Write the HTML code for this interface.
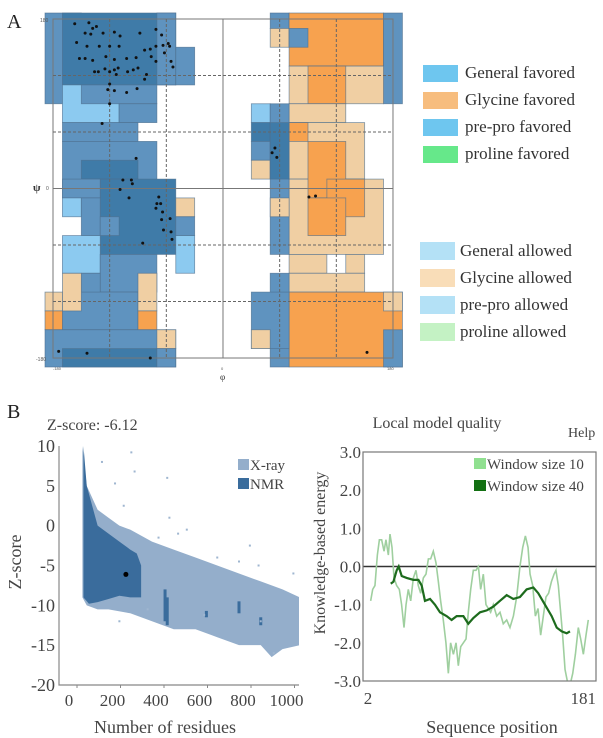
<!DOCTYPE html>
<html><head><meta charset="utf-8">
<style>
html,body{margin:0;padding:0;background:#fff;}
body{width:603px;height:738px;overflow:hidden;}
svg{display:block;font-family:"Liberation Serif",serif;}
</style></head>
<body>
<svg id="fig" width="603" height="738" viewBox="0 0 603 738" xmlns="http://www.w3.org/2000/svg">
  <text x="7" y="28" font-size="20" fill="#222">A</text>
  <text x="7" y="418" font-size="20" fill="#222">B</text>
  <g id="rama"></g>
  <g id="legend"></g>
  <g id="zplot"></g>
  <g id="qplot"></g>
</svg>
<script>
// ---------- Ramachandran data ----------
const ramaRegions = [
 // [phi1, phi2, psiTop, psiBottom, type]
 [-190,-150,190,90,'M'],[-170,-50,190,110,'D'],[-70,-50,190,110,'M'],[-50,-30,150,110,'M'],
 [-170,-110,110,70,'L'],[-150,-70,110,90,'M'],[-110,-70,90,70,'M'],
 [-170,-90,70,50,'M'],[-170,-70,50,-10,'M'],[-150,-90,30,10,'D'],[-130,-50,10,-70,'D'],
 [-170,-130,10,-10,'M'],[-170,-150,-10,-30,'L'],[-150,-130,-10,-50,'M'],[-130,-110,-30,-50,'M'],
 [-50,-30,-10,-30,'T'],[-50,-30,-30,-50,'M'],[-50,-30,-50,-90,'L'],[-170,-130,-50,-90,'L'],
 [-130,-70,-70,-110,'M'],[-150,-130,-90,-150,'M'],[-170,-90,-110,-150,'M'],
 [-170,-150,-90,-130,'T'],[-190,-170,-110,-130,'T'],[-190,-170,-130,-150,'O'],
 [-90,-70,-90,-130,'T'],[-90,-70,-130,-150,'O'],
 [-190,-50,-150,-190,'M'],[-170,-70,-170,-190,'D'],[-70,-50,-150,-170,'T'],[-70,-50,-170,-190,'M'],
 [50,70,190,170,'M'],[50,70,170,150,'T'],[70,170,190,130,'O'],[70,90,170,150,'M'],
 [170,190,190,90,'M'],[70,170,130,90,'T'],[90,130,130,90,'O'],[70,130,90,70,'T'],
 [70,150,70,10,'T'],[70,170,10,-70,'T'],[70,110,-70,-90,'T'],[130,150,-70,-90,'T'],[70,150,-90,-110,'T'],
 [70,90,70,50,'O'],[90,130,50,-10,'O'],[110,150,10,-30,'O'],[90,130,-10,-50,'O'],
 [70,190,-110,-190,'O'],[170,190,-110,-130,'T'],[170,190,-150,-190,'M'],
 [30,50,90,70,'L'],[30,50,70,50,'D'],[30,50,50,30,'M'],[30,50,30,10,'T'],
 [50,70,90,-70,'M'],[50,70,70,10,'D'],[50,70,-10,-30,'T'],[50,70,-90,-190,'M'],
 [30,70,-110,-170,'M'],[30,50,-150,-170,'T']
];
const ramaPhi = [-157,-142,-134,-138,-146,-140,-127,-115,-109,-88,-71,-65,-155,-144,-131,-120,-110,-83,-77,-71,-63.5,-58,-56.5,-62,-152,-146,-138,-124,-115,-102,-92,-76,-71,-55,-53,-136,-132,-125,-120,-115,-111,-113,-101,-95,-90,-81,-83,-120,-122,-115,-102,-91,-120,-128,-92,-106,-97,-96,-109,-99.5,-68,-70,-71,-66,-64,-56,-65,-63,-55,-54,-85,55,52,57,91,98,-174,-144,-77,152.5];
const ramaPsi = [175,176,172,170,165,164,165,166,162,165,169,163,155,151,151,151,151,147,148,151,152,154,151,144,138,138,136,140,137,138,139,140,135,135,129,124,124,127,124,126,128,121,124,126,128,121,116,111,105,104,102,106,90,69,32,9,9,5,-1,-10,-9,-16,-21,-16,-25,-32,-33,-44,-46,-54,-58,43,38,33,-9,-8,-173,-175,-180,-174];
const legendFavored = ['General favored','Glycine favored','pre-pro favored','proline favored'];
const legendAllowed = ['General allowed','Glycine allowed','pre-pro allowed','proline allowed'];

// ---------- Z-score data ----------
const zXTicks = [0,200,400,600,800,1000];
const zYTicks = [10,5,0,-5,-10,-15,-20];
const xrayUpperN = [80,100,150,200,250,300,400,500,600,700,800,900,1000,1080];
const xrayUpperZ = [10,5,2,1,0,-0.5,-2,-3,-4,-5,-6,-7,-8,-9];
const xrayLowerN = [1080,1000,950,900,800,700,600,500,450,400,300,200,150,100,80];
const xrayLowerZ = [-15,-15.5,-16.5,-15,-15,-14,-13,-13,-12.5,-12,-11,-10.5,-10.5,-10,-9];
const nmrUpperN = [85,100,120,150,200,250,300,330,350,350];
const nmrUpperZ = [10,5,3,0,-1,-2,-3,-3.5,-5,-9];
const nmrLowerN = [300,250,200,150,110,85];
const nmrLowerZ = [-9,-8.8,-9.2,-9.6,-9.8,-9];
const sparseN = [170,230,270,305,320,470,480,560,380,640,850,960,250,1050,800,890,700,520,430,900];
const sparseZ = [8,5.3,2.5,9.2,6.8,6,1,-0.5,-10.5,-11.2,-2.5,-16,-12,-6,-4.5,-5,-4,-1,-1.5,-12];
const nmrStreakN = [460,470,650,800,900];
const nmrStreakTop = [-8,-9,-10.7,-9.5,-11.5];
const nmrStreakBot = [-12,-12.5,-11.5,-11,-12.5];
const modelN = [280];
const modelZ = [-6.12];

// ---------- Local quality data ----------
const qYTicks = [3.0,2.0,1.0,0.0,-1.0,-2.0,-3.0];
const qYLabels = ['3.0','2.0','1.0','0.0','-1.0','-2.0','-3.0'];
const w10Seq = [4.9,6.5,8.3,10.2,11.8,13.6,15.5,17.0,18.9,20.2,21.8,23.4,25.5,27.6,29.4,31.3,32.9,34.7,36.6,38.7,40.8,42.6,44.5,46.6,48.7,50.6,52.4,54.5,56.6,58.5,60.3,62.4,64.5,66.4,68.2,70.4,72.5,74.3,76.2,78.3,80.4,82.2,84.1,86.2,88.3,90.2,92.0,94.1,96.2,98.1,99.9,102.0,104.7,107.3,109.9,112.6,115.2,117.9,120.5,123.1,125.3,127.4,129.5,131.1,133.2,135.3,137.4,139.5,141.6,143.7,145.8,148.0,150.1,151.6,153.5,154.8,156.9,158.8,160.6,162.8,164.9,167.0,169.3,171.2,173.3,175.4,177.2];
const w10Val = [-0.9,-0.6,-0.5,0.3,0.7,0.7,0.4,0.7,0.3,0.85,0.5,-0.3,-0.5,-0.6,-1.0,-1.6,-1.0,-0.6,-0.9,-0.3,-0.1,-0.5,-0.7,-0.3,-0.2,0.2,0.2,0.4,0.1,-0.4,-0.9,-1.4,-2.0,-2.8,-2.0,-2.3,-2.0,-2.6,-2.1,-2.0,-1.9,-1.2,-0.6,-0.1,-0.1,0.0,-0.6,-0.2,-1.0,-1.1,-1.2,-1.0,-1.3,-1.2,-1.5,-1.4,-1.6,-1.3,-0.8,0.0,0.5,0.8,0.5,-0.2,-0.5,-1.3,-1.1,-1.8,-1.3,-0.8,-0.7,-0.4,-0.2,-0.1,-0.5,-1.0,-1.8,-2.7,-3.0,-3.1,-2.8,-2.3,-1.6,-1.9,-2.3,-1.8,-1.4];
const w40Seq = [20.8,22.9,25.5,27.1,29.5,33.4,38.7,42.7,45.3,47.9,51.9,55.8,59.8,65.1,69.0,73.0,78.3,82.2,86.2,91.5,96.8,102,107.3,112.6,117.8,123.1,128.4,133.7,137.6,142.9,148.2,152.2,156.2,160.1,162.7];
const w40Val = [-0.45,-0.4,-0.1,0.0,-0.25,-0.3,-0.35,-0.35,-0.5,-0.9,-0.85,-1.0,-1.2,-1.3,-1.4,-1.3,-1.3,-1.5,-1.35,-1.2,-1.15,-1.05,-0.9,-0.75,-0.85,-0.8,-0.6,-0.55,-0.7,-1.0,-1.3,-1.6,-1.7,-1.75,-1.7];

const NS='http://www.w3.org/2000/svg';
function mk(tag, attrs, parent){const e=document.createElementNS(NS,tag);for(const k in attrs)e.setAttribute(k,attrs[k]);parent.appendChild(e);return e;}

// ---------- Ramachandran ----------
(function(){
 const g=document.getElementById('rama');
 const rx=p=>53+(p+180)*0.9444, ry=s=>19+(180-s)*0.9417;
 const fill={M:'#5f93bf',D:'#3f7ba8',L:'#8ccaf0',T:'#f0cfa3',O:'#f7a24f'};
 const clipR=mk('rect',{x:45,y:13,width:358,height:354,fill:'#fff'},g);
 
 
 ramaRegions.forEach(r=>{
   const x1=Math.max(rx(r[0]),45),x2=Math.min(rx(r[1]),403),y1=Math.max(ry(r[2]),13),y2=Math.min(ry(r[3]),367);
   const e=mk('rect',{x:x1,y:y1,width:x2-x1,height:y2-y1,fill:fill[r[4]],stroke:'#4d6f8e','stroke-width':0.8,'stroke-opacity':0.7},g);
   
   
 });
 // grid
 const fr=mk('rect',{x:rx(-180),y:ry(180),width:rx(180)-rx(-180),height:ry(-180)-ry(180),fill:'none',stroke:'#777','stroke-width':1},g);
 
 
 [0].forEach(v=>{
   const a=mk('line',{x1:rx(v),x2:rx(v),y1:ry(180),y2:ry(-180),stroke:'#777','stroke-width':1},g);
   
   
   const b=mk('line',{x1:rx(-180),x2:rx(180),y1:ry(v),y2:ry(v),stroke:'#777','stroke-width':1},g);
   
   
 });
 [-120,-60,60,120].forEach(v=>{
   const a=mk('line',{x1:rx(v),x2:rx(v),y1:ry(180),y2:ry(-180),stroke:'#666','stroke-width':1,'stroke-dasharray':'3,2'},g);
   
   
   const b=mk('line',{x1:rx(-180),x2:rx(180),y1:ry(v),y2:ry(v),stroke:'#666','stroke-width':1,'stroke-dasharray':'3,2'},g);
   
   
 });
 ramaPhi.forEach((p,i)=>{
   const c=mk('circle',{cx:rx(p),cy:ry(ramaPsi[i]),r:1.5,fill:'#111'},g);
   
   
 });
 const lbl=[['180',40,22,5],['-180',36,361,5],['-180',53,370,4],['180',387,370,4],['0',221,370,4],['0',46,190,5]];
 lbl.forEach(l=>{const t=mk('text',{x:l[1],y:l[2],'font-size':l[3],fill:'#555','font-family':'Liberation Sans,sans-serif'},g);t.textContent=l[0];
   
   });
 const psi=mk('text',{x:33,y:191,'font-size':11,'font-weight':'bold',fill:'#333'},g);psi.textContent='ψ';
 
 
 const phi=mk('text',{x:220,y:380,'font-size':9,fill:'#333'},g);phi.textContent='φ';
 
 
})();

// ---------- Legend ----------
(function(){
 const g=document.getElementById('legend');
 const favC=['#6ec6ef','#f7bd7e','#6ec6ef','#66e88a'], allC=['#b4e1f6','#f9ddb8','#b4e1f6','#c4f2c4'];
 legendFavored.forEach((s,i)=>{
   const r=mk('rect',{x:423,y:65+i*27,width:35,height:17,fill:favC[i]},g);
   
   
   const t=mk('text',{x:465,y:78+i*27,'font-size':17,fill:'#333'},g);t.textContent=s;
   
   
 });
 legendAllowed.forEach((s,i)=>{
   const r=mk('rect',{x:420,y:242+i*27,width:35,height:18,fill:allC[i]},g);
   
   
   const t=mk('text',{x:460,y:256+i*27,'font-size':17,fill:'#333'},g);t.textContent=s;
   
   
 });
})();

// ---------- Z-score plot ----------
(function(){
 const g=document.getElementById('zplot');
 const L=59,R=299,T=446,B=685;
 const zx=n=>L+6+n*0.2175, zy=z=>T+(10-z)*(B-T)/30;
 const cp=mk('clipPath',{id:'zclip'},g);mk('rect',{x:L,y:T,width:R-L,height:B-T},cp);
 const inner=mk('g',{'clip-path':'url(#zclip)'},g);
 const poly=(un,uz,ln,lz)=>un.map((n,i)=>zx(n)+','+zy(uz[i])).concat(ln.map((n,i)=>zx(n)+','+zy(lz[i]))).join(' ');
 const xr=mk('polygon',{points:poly(xrayUpperN,xrayUpperZ,xrayLowerN,xrayLowerZ),fill:'#94aecb'},inner);
 
 
 const nm=mk('polygon',{points:poly(nmrUpperN,nmrUpperZ,nmrLowerN,nmrLowerZ),fill:'#3a6c9c'},inner);
 
 
 nmrStreakN.forEach((n,i)=>{
   const r=mk('rect',{x:zx(n)-1.5,y:zy(nmrStreakTop[i]),width:3,height:zy(nmrStreakBot[i])-zy(nmrStreakTop[i]),fill:'#3a6c9c'},inner);
   
   
 });
 sparseN.forEach((n,i)=>{
   const c=mk('rect',{x:zx(n)-1,y:zy(sparseZ[i])-1,width:2,height:2,fill:'#9fb6d0'},inner);
   
   
 });
 modelN.forEach((n,i)=>{
   const c=mk('circle',{cx:zx(n),cy:zy(modelZ[i]),r:2.5,fill:'#000'},inner);
   
   
 });
 const ax=mk('path',{d:`M${L},${T} V${B} H${R}`,fill:'none',stroke:'#888','stroke-width':1.2},g);
 
 
 zYTicks.forEach(v=>{
   const t=mk('text',{x:L-4,y:zy(v)+6,'font-size':18,'text-anchor':'end',fill:'#444'},g);t.textContent=v;
   
   
 });
 zXTicks.forEach(v=>{
   const t=mk('text',{x:zx(v)+4,y:706,'font-size':17,'text-anchor':'middle',fill:'#444'},g);t.textContent=v;
   
   
   const k=mk('line',{x1:zx(v)+12,x2:zx(v)+12,y1:B,y2:B+3,stroke:'#888'},g);
   
   
 });
 const t1=mk('text',{x:47,y:430,'font-size':16,fill:'#444'},g);t1.textContent='Z-score: -6.12';
 
 
 const t2=mk('text',{x:0,y:0,'font-size':18,'text-anchor':'middle',fill:'#444',transform:'translate(21,562) rotate(-90)'},g);t2.textContent='Z-score';
 
 
 const t3=mk('text',{x:165,y:733,'font-size':18,'text-anchor':'middle',fill:'#444'},g);t3.textContent='Number of residues';
 
 
 const s1=mk('rect',{x:238,y:459,width:11,height:11,fill:'#94aecb'},g);
 
 
 const l1=mk('text',{x:250,y:470,'font-size':15,fill:'#444'},g);l1.textContent='X-ray';
 
 
 const s2=mk('rect',{x:238,y:478,width:11,height:11,fill:'#3a6c9c'},g);
 
 
 const l2=mk('text',{x:250,y:489,'font-size':15,fill:'#444'},g);l2.textContent='NMR';
 
 
})();

// ---------- Local model quality ----------
(function(){
 const g=document.getElementById('qplot');
 const L=363,R=596,T=452,B=681;
 const qx=s=>367+(s-2)*1.263, qy=v=>T+(3-v)*(B-T)/6;
 const cp=mk('clipPath',{id:'qclip'},g);mk('rect',{x:L,y:T,width:R-L,height:B-T},cp);
 const inner=mk('g',{'clip-path':'url(#qclip)'},g);
 const zl=mk('line',{x1:L,x2:R,y1:qy(0),y2:qy(0),stroke:'#333','stroke-width':1.6},inner);
 
 
 const p10=mk('polyline',{points:w10Seq.map((s,i)=>qx(s)+','+qy(w10Val[i])).join(' '),fill:'none',stroke:'#9fcf9f','stroke-width':1.6},inner);
 
 
 const p40=mk('polyline',{points:w40Seq.map((s,i)=>qx(s)+','+qy(w40Val[i])).join(' '),fill:'none',stroke:'#1d6b1d','stroke-width':2.2},inner);
 
 
 const fr=mk('rect',{x:L,y:T,width:R-L,height:B-T,fill:'none',stroke:'#777','stroke-width':1.2},g);
 
 
 qYTicks.forEach((v,i)=>{
   const t=mk('text',{x:L-2,y:qy(v)+6,'font-size':17,'text-anchor':'end',fill:'#444'},g);t.textContent=qYLabels[i];
   
   
 });
 const a=mk('text',{x:368,y:704,'font-size':17,'text-anchor':'middle',fill:'#444'},g);a.textContent='2';
 
 
 const b=mk('text',{x:596,y:704,'font-size':17,'text-anchor':'end',fill:'#444'},g);b.textContent='181';
 
 
 const t1=mk('text',{x:437,y:428,'font-size':16,'text-anchor':'middle',fill:'#444'},g);t1.textContent='Local model quality';
 
 
 const h=mk('text',{x:568,y:437,'font-size':14,fill:'#444'},g);h.textContent='Help';
 
 
 const t2=mk('text',{x:0,y:0,'font-size':16,'text-anchor':'middle',fill:'#444',transform:'translate(325,553) rotate(-90)'},g);t2.textContent='Knowledge-based energy';
 
 
 const t3=mk('text',{x:492,y:733,'font-size':18,'text-anchor':'middle',fill:'#444'},g);t3.textContent='Sequence position';
 
 
 const s1=mk('rect',{x:474,y:458,width:12,height:11,fill:'#90e090'},g);
 
 
 const l1=mk('text',{x:487,y:469,'font-size':15,fill:'#444'},g);l1.textContent='Window size 10';
 
 
 const s2=mk('rect',{x:474,y:480,width:12,height:11,fill:'#137013'},g);
 
 
 const l2=mk('text',{x:487,y:491,'font-size':15,fill:'#444'},g);l2.textContent='Window size 40';
 
 
})();
</script>
</body></html>
